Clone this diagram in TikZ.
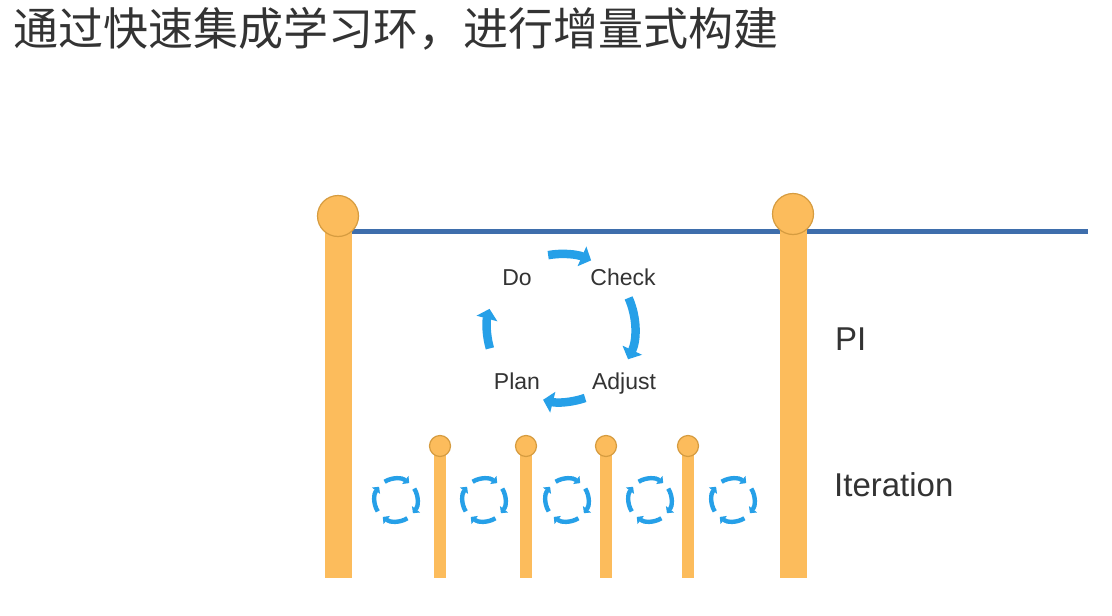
\documentclass[tikz,border=0pt]{standalone}
\usepackage{fontspec}
\setmainfont{Liberation Sans}
\newfontfamily\cjk{Noto Sans CJK SC}
\usetikzlibrary{arrows.meta}
\definecolor{postc}{RGB}{252,188,92}
\definecolor{postedge}{RGB}{214,156,64}
\definecolor{piline}{RGB}{62,110,172}
\definecolor{cycblue}{RGB}{38,160,232}
\definecolor{txt}{RGB}{51,51,51}
\tikzset{
  postbar/.style={fill=postc,draw=none},
  knob/.style={fill=postc,draw=postedge,line width=1.2pt},
  bigarc/.style={draw=cycblue,line width=8.5pt,-{Triangle[length=10pt,width=21pt]}},
  smallarc/.style={draw=cycblue,line width=4.4pt,-{Triangle[length=5pt,width=10pt]}},
  lbl/.style={text=txt,font=\fontsize{23}{27}\selectfont,inner sep=0pt,anchor=base},
  biglbl/.style={text=txt,font=\fontsize{33}{38}\selectfont,inner sep=0pt,anchor=base west},
}
\begin{document}
\begin{tikzpicture}[x=1pt,y=-1pt]
\useasboundingbox (0,0) rectangle (1112,616);
\fill[white] (0,0) rectangle (1112,616);
% title
\node[anchor=west,inner sep=0pt,text=txt,font=\cjk\fontsize{45}{50}\selectfont] (title) at (13,29) {通过快速集成学习环，进行增量式构建};
% PI line
\coordinate (lineL) at (338,231);
\coordinate (lineR) at (1088,231);
\draw[piline,line width=5pt] (lineL) -- (lineR);
% big posts
\fill[postbar] (324.5,222) rectangle (351.5,578);
\fill[postbar] (779.5,222) rectangle (806.5,578);
\draw[knob] (338,216) circle[radius=20.5];
\draw[knob] (793,214) circle[radius=20.5];
% small posts
\foreach \x in {440,526,606,688}{
  \fill[postbar] (\x-6,446) rectangle (\x+6,578);
  \draw[knob] (\x,446) circle[radius=10.5];
}
% PDCA cycle
\coordinate (pdca) at (561,328);
\foreach \a/\b in {100/66, 24/-25, -71/-104, -164/-195}{
  \draw[bigarc] ([shift={(-\a:74)}]pdca) arc[start angle=-\a, end angle=-\b, radius=74];
}
\node[lbl] (do) at (517,285) {Do};
\node[lbl] (check) at (623,285) {Check};
\node[lbl] (plan) at (517,389) {Plan};
\node[lbl] (adjust) at (624,389) {Adjust};
% small iteration cycles
\foreach \cx in {396,484,567,650,733}{
  \coordinate (c\cx) at (\cx,500);
  \foreach \a/\b in {122/52, 32/-38, -58/-128, -148/-218}{
    \draw[smallarc] ([shift={(-\a:21.5)}]c\cx) arc[start angle=-\a, end angle=-\b, radius=21.5];
  }
}
% labels
\node[biglbl] (pi) at (835,350) {PI};
\node[biglbl] (iter) at (834,496) {Iteration};
\end{tikzpicture}
\end{document}
